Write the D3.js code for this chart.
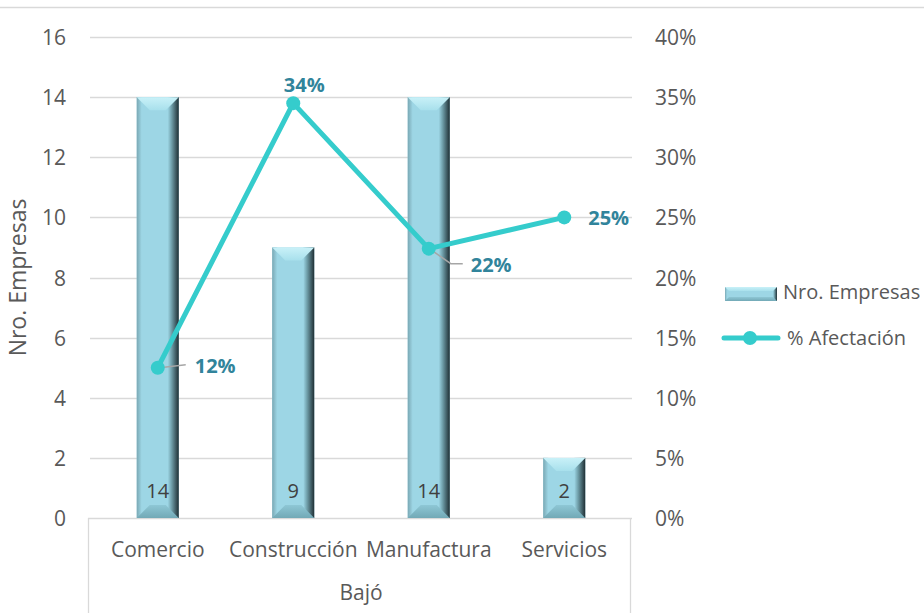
<!DOCTYPE html>
<html><head><meta charset="utf-8">
<script src="https://cdn.jsdelivr.net/npm/d3@7"></script>
<style>body{margin:0;background:#fff}svg{display:block;font-family:"Open Sans",sans-serif}</style>
</head><body><svg id="c" width="924" height="613"></svg>
<script>
const categories = ["Comercio","Construcción","Manufactura","Servicios"];
const empresas = [14, 9, 14, 2];
const afectacion = [12.5, 34.5, 22.4, 25.0];
const afectLabels = ["12%","34%","22%","25%"];
const leftTicks = [0,2,4,6,8,10,12,14,16];
const rightTicks = [0,5,10,15,20,25,30,35,40];
const groupLabel = "Bajó";

const svg = d3.select("#c");
const L=90, R=632, T=37, B=518;
const x = d3.scaleBand().domain(categories).range([L,R]).paddingInner(0.69).paddingOuter(0.345);
const y = d3.scaleLinear().domain([0,16]).range([B,T]);
const y2 = d3.scaleLinear().domain([0,40]).range([B,T]);
const FS = 21;
const TXT = "#595959";

// top border
svg.append("line").attr("x1",0).attr("x2",924).attr("y1",7.5).attr("y2",7.5).attr("stroke","#d9d9d9").attr("stroke-width",1.5);

// gridlines
svg.append("g").selectAll("line").data(leftTicks.slice(1)).join("line")
  .attr("x1",L).attr("x2",R).attr("y1",d=>Math.round(y(d))+0.5).attr("y2",d=>Math.round(y(d))+0.5)
  .attr("stroke","#d9d9d9").attr("stroke-width",1.3);

// category box lines
svg.append("line").attr("x1",L-2).attr("x2",R).attr("y1",B+0.5).attr("y2",B+0.5).attr("stroke","#d9d9d9").attr("stroke-width",1.3);
svg.append("line").attr("x1",L-1.5).attr("x2",L-1.5).attr("y1",B).attr("y2",613).attr("stroke","#d9d9d9").attr("stroke-width",1.3);
svg.append("line").attr("x1",R-1.5).attr("x2",R-1.5).attr("y1",B).attr("y2",613).attr("stroke","#d9d9d9").attr("stroke-width",1.3);

// gradients
const defs = svg.append("defs");
function lg(id, x2, y2, stops){
  const g = defs.append("linearGradient").attr("id",id).attr("x1",0).attr("y1",0).attr("x2",x2).attr("y2",y2);
  stops.forEach(s=>g.append("stop").attr("offset",s[0]).attr("stop-color",s[1]));
}
lg("gr",1,0,[[0,"#9dd6e5"],[0.35,"#6f9ea9"],[1,"#1f2f34"]]);
lg("gl",1,0,[[0,"#7aa8b4"],[1,"#9dd6e5"]]);
lg("gt",0,1,[[0,"#c9f1f8"],[1,"#a8e0ec"]]);
lg("gb",0,1,[[0,"#8ec7d5"],[1,"#72a9b6"]]);

function bevel(g, x0, y0, w, h, bv, sl, sr){
  const x1=x0+w, y1=y0+h;
  g.append("rect").attr("x",x0).attr("y",y0).attr("width",w).attr("height",h).attr("fill","#9dd6e5");
  g.append("rect").attr("x",x0).attr("y",y0).attr("width",sl).attr("height",h).attr("fill","url(#gl)");
  g.append("rect").attr("x",x1-sr).attr("y",y0).attr("width",sr).attr("height",h).attr("fill","url(#gr)");
  g.append("polygon").attr("points",[[x0,y0],[x1,y0],[x1-bv,y0+bv],[x0+bv,y0+bv]].join(" ")).attr("fill","url(#gt)");
  g.append("polygon").attr("points",[[x0,y1],[x1,y1],[x1-bv,y1-bv],[x0+bv,y1-bv]].join(" ")).attr("fill","url(#gb)");
}

// bars
const bars = svg.append("g");
categories.forEach((c,i)=>{
  const g = bars.append("g");
  const bx = x(c), bw = x.bandwidth();
  const top = y(empresas[i]);
  bevel(g, bx, top, bw, B-top, 13, 5, 11);
});
// bar labels
svg.append("g").selectAll("text").data(categories).join("text")
  .attr("x",(d)=>x(d)+x.bandwidth()/2).attr("y",B-20)
  .attr("text-anchor","middle").attr("font-size",20).attr("fill","#404040")
  .text((d,i)=>empresas[i]);

// left axis
svg.append("g").selectAll("text").data(leftTicks).join("text")
  .attr("x",66).attr("y",d=>y(d)+8).attr("text-anchor","end")
  .attr("font-size",FS).attr("fill",TXT).text(d=>d);
// right axis
svg.append("g").selectAll("text").data(rightTicks).join("text")
  .attr("x",655).attr("y",d=>y2(d)+8).attr("text-anchor","start")
  .attr("font-size",FS).attr("fill",TXT).text(d=>d+"%");

// category labels
svg.append("g").selectAll("text").data(categories).join("text")
  .attr("x",d=>x(d)+x.bandwidth()/2).attr("y",557).attr("text-anchor","middle")
  .attr("font-size",FS).attr("fill",TXT).text(d=>d);
svg.append("text").attr("x",(L+R)/2).attr("y",600).attr("text-anchor","middle")
  .attr("font-size",FS).attr("fill",TXT).text(groupLabel);

// y title
svg.append("text").attr("transform","translate(26,277.5) rotate(-90)").attr("text-anchor","middle")
  .attr("font-size",23).attr("fill",TXT).text("Nro. Empresas");

// line
const cx = d=>x(d)+x.bandwidth()/2;
const lineColor = "#35cccc";
svg.append("path").datum(categories)
  .attr("d", d3.line().x(d=>cx(d)).y((d,i)=>y2(afectacion[i])))
  .attr("fill","none").attr("stroke",lineColor).attr("stroke-width",5).attr("stroke-linejoin","round");

// leader lines
const lead = [[[cx(categories[0])+2,y2(afectacion[0])],[cx(categories[0])+28,y2(afectacion[0])-3]],
              [[cx(categories[2])+2,y2(afectacion[2])+1],[cx(categories[2])+22,y2(afectacion[2])+15],[cx(categories[2])+34,y2(afectacion[2])+15]]];
lead.forEach(l=>{
  svg.append("polyline").attr("points",l.map(p=>p.join(",")).join(" "))
    .attr("fill","none").attr("stroke","#a6a6a6").attr("stroke-width",1.5);
});

svg.append("g").selectAll("circle").data(categories).join("circle")
  .attr("cx",d=>cx(d)).attr("cy",(d,i)=>y2(afectacion[i])).attr("r",7).attr("fill",lineColor);

// line labels
const labOff = [[37,5,"start"],[11,-11,"middle"],[42,23,"start"],[24,8,"start"]];
svg.append("g").selectAll("text").data(categories).join("text")
  .attr("x",(d,i)=>cx(d)+labOff[i][0]).attr("y",(d,i)=>y2(afectacion[i])+labOff[i][1])
  .attr("text-anchor",(d,i)=>labOff[i][2])
  .attr("font-size",20).attr("font-weight","bold").attr("fill","#31849b").text((d,i)=>afectLabels[i]);

// legend
const lgd = svg.append("g");
bevel(lgd, 725, 287, 52, 14, 4, 2, 4);
lgd.append("text").attr("x",783).attr("y",299).attr("font-size",20).attr("fill",TXT).text("Nro. Empresas");
lgd.append("line").attr("x1",724).attr("x2",778).attr("y1",338).attr("y2",338).attr("stroke",lineColor).attr("stroke-width",5).attr("stroke-linecap","round");
lgd.append("circle").attr("cx",750).attr("cy",338).attr("r",7).attr("fill",lineColor);
lgd.append("text").attr("x",787).attr("y",345).attr("font-size",20).attr("fill",TXT).text("% Afectación");
</script></body></html>
